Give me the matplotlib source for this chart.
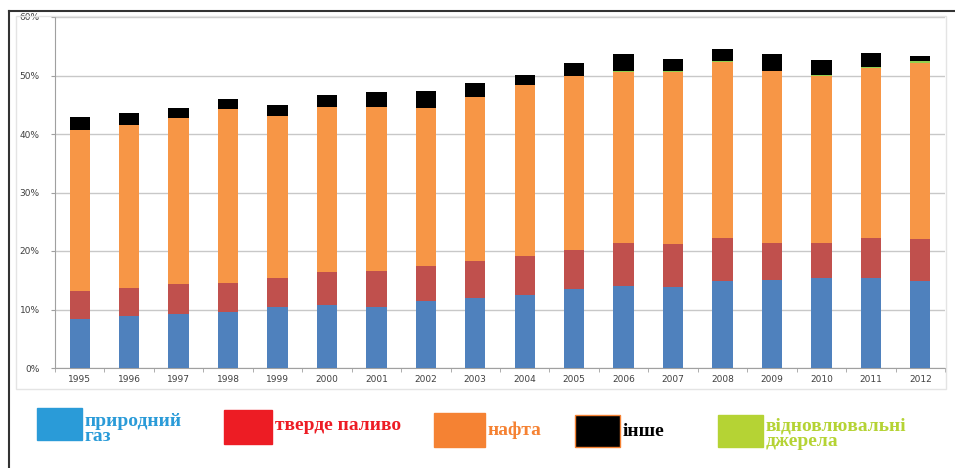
import matplotlib
matplotlib.use('Agg')
import matplotlib.pyplot as plt
from matplotlib.patches import Rectangle
from matplotlib.lines import Line2D
from matplotlib.ticker import FuncFormatter, MultipleLocator, FixedLocator
import numpy as np

# data (share, %)
years = ['1995', '1996', '1997', '1998', '1999', '2000', '2001', '2002', '2003',
         '2004', '2005', '2006', '2007', '2008', '2009', '2010', '2011', '2012']
gas = [8.4, 8.9, 9.2, 9.6, 10.4, 10.8, 10.4, 11.5, 12.0,
       12.5, 13.5, 14.0, 13.8, 14.8, 15.0, 15.3, 15.4, 14.9]
solid = [4.8, 4.8, 5.1, 4.9, 5.0, 5.6, 6.1, 5.9, 6.3,
         6.7, 6.7, 7.3, 7.4, 7.4, 6.4, 6.1, 6.9, 7.2]
oil = [27.4, 27.8, 28.4, 29.8, 27.6, 28.2, 28.1, 27.1, 28.0,
       29.2, 29.7, 29.3, 29.4, 30.1, 29.3, 28.5, 28.9, 30.0]
renew = [0, 0, 0, 0, 0, 0, 0.05, 0, 0,
         0, 0, 0.1, 0.1, 0.1, 0.1, 0.2, 0.3, 0.4]
other = [2.3, 2.1, 1.7, 1.6, 2.0, 2.0, 2.55, 2.9, 2.4,
         1.7, 2.2, 2.9, 2.1, 2.2, 2.8, 2.5, 2.3, 0.8]

series = [gas, solid, oil, renew, other]
bar_colors = ['#4F81BD', '#C0504D', '#F79646', '#92D050', '#000000']

legend_labels = ['природний\nгаз', 'тверде паливо', 'нафта', 'інше', 'відновлювальні\nджерела']
legend_colors = ['#2A9BD8', '#ED1C24', '#F58233', '#000000', '#B5D334']
legend_text_colors = ['#2A9BD8', '#ED1C24', '#F58233', '#000000', '#B5D334']

W, H = 955, 468
fig = plt.figure(figsize=(W / 100, H / 100), dpi=100)


def fx(px):
    return px / W


def fy(py):
    return 1 - py / H


# outer frame lines
fig.add_artist(Line2D([fx(9), fx(955)], [fy(11), fy(11)], color='#333333', lw=1.5))
fig.add_artist(Line2D([fx(9), fx(9)], [fy(11), fy(468)], color='#333333', lw=1.5))
fig.add_artist(Rectangle((fx(16), fy(389)), fx(946) - fx(16), fy(16) - fy(389),
                         fill=False, edgecolor='#E4E4E4', lw=1))

ax = fig.add_axes([fx(55), fy(368), fx(945) - fx(55), fy(17) - fy(368)])
x = np.arange(len(years))
bottom = np.zeros(len(years))
for vals, c in zip(series, bar_colors):
    ax.bar(x, vals, 0.41, bottom=bottom, color=c, zorder=3)
    bottom += np.array(vals)

ax.set_xlim(-0.5, len(years) - 0.5)
ax.set_ylim(0, 60)
ax.yaxis.set_major_locator(MultipleLocator(10))
ax.yaxis.set_major_formatter(FuncFormatter(lambda v, p: f'{v:.0f}%'))
ax.grid(axis='y', color='#C8C8C8', lw=1, zorder=0)
ax.set_xticks(x)
ax.set_xticklabels(years)
ax.xaxis.set_minor_locator(FixedLocator(np.arange(-0.5, len(years), 1)))
ax.tick_params(axis='x', which='major', length=0, labelsize=6.5, colors='#404040', pad=5)
ax.tick_params(axis='x', which='minor', length=3, color='#A0A0A0')
ax.tick_params(axis='y', length=3, color='#A0A0A0', labelsize=6.5, labelcolor='#404040', pad=8)
for s in ['top', 'right']:
    ax.spines[s].set_visible(False)
for s in ['left', 'bottom']:
    ax.spines[s].set_color('#A0A0A0')

# legend below chart: swatch (left, top, width, height) and text centre y
sw = [(37, 408, 45, 32), (224, 410, 48, 34), (434, 413, 51, 34), (575, 415, 45, 32), (718, 415, 45, 32)]
text_y = [429, 425, 430, 431, 434]
for (l, t, w, h), ty, lab, fc, tc in zip(sw, text_y, legend_labels, legend_colors, legend_text_colors):
    ec = '#F58233' if fc == '#000000' else fc
    fig.add_artist(Rectangle((fx(l), fy(t + h)), w / W, h / H, facecolor=fc, edgecolor=ec, lw=1))
    fig.text(fx(l + w + 3), fy(ty), lab, color=tc, fontsize=14, fontweight='bold',
             family='Liberation Serif', va='center', ha='left', linespacing=0.85)

fig.savefig('out.png', dpi=100)
